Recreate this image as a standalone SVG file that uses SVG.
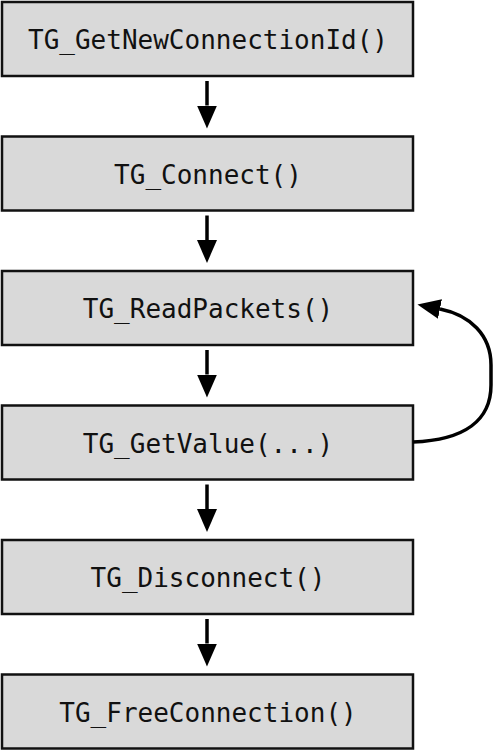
<svg xmlns="http://www.w3.org/2000/svg" width="496" height="753" viewBox="0 0 496 753">
<style>
.box{fill:#d9d9d9;stroke:#111;stroke-width:2.5}
.lbl{font-family:"DejaVu Sans Mono",monospace;font-size:26px;fill:#111;text-anchor:middle}
.con{fill:none;stroke:#000;stroke-width:3.5}
</style>
<defs>
<marker id="ah" markerUnits="userSpaceOnUse" markerWidth="24" markerHeight="22" viewBox="0 0 24 22" refX="0" refY="11" orient="auto">
<path d="M0,1 L23,11 L0,21 z" fill="#000"/>
</marker>
</defs>
<rect width="496" height="753" fill="#fff"/>
<g id="n1"><rect class="box" x="2" y="2" width="411" height="74"/><text class="lbl" x="208" y="49">TG_GetNewConnectionId()</text></g>
<g id="n2"><rect class="box" x="2" y="136.5" width="411" height="74"/><text class="lbl" x="208" y="183.5">TG_Connect()</text></g>
<g id="n3"><rect class="box" x="2" y="271" width="411" height="74"/><text class="lbl" x="208" y="318">TG_ReadPackets()</text></g>
<g id="n4"><rect class="box" x="2" y="405.5" width="411" height="74"/><text class="lbl" x="208" y="452.5">TG_GetValue(...)</text></g>
<g id="n5"><rect class="box" x="2" y="540" width="411" height="74"/><text class="lbl" x="208" y="587">TG_Disconnect()</text></g>
<g id="n6"><rect class="box" x="2" y="674.5" width="411" height="74"/><text class="lbl" x="208" y="721.5">TG_FreeConnection()</text></g>
<g id="connectors">
<line class="con" x1="207" y1="81" x2="207" y2="105.5" marker-end="url(#ah)"/>
<line class="con" x1="207" y1="215.5" x2="207" y2="240" marker-end="url(#ah)"/>
<line class="con" x1="207" y1="350" x2="207" y2="374.5" marker-end="url(#ah)"/>
<line class="con" x1="207" y1="484.5" x2="207" y2="509" marker-end="url(#ah)"/>
<line class="con" x1="207" y1="619" x2="207" y2="643.5" marker-end="url(#ah)"/>
<path class="con" d="M413,442 C465,440 491,420 491,385 L491,365 C491,335 470,315 440,309" marker-end="url(#ah)"/>
</g>
</svg>
